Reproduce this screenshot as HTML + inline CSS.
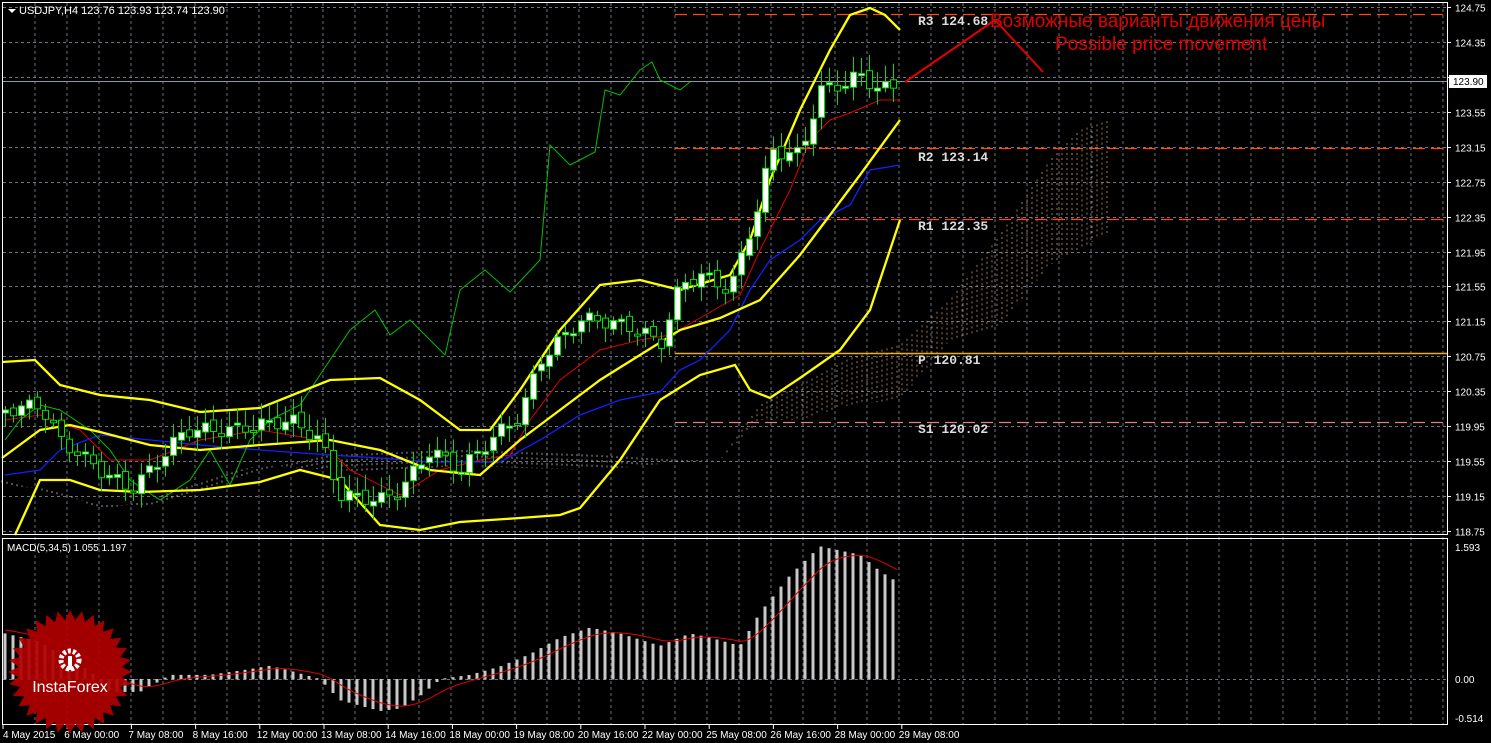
<!DOCTYPE html>
<html><head><meta charset="utf-8"><style>
html,body{margin:0;padding:0;background:#000;width:1491px;height:743px;overflow:hidden}
svg{display:block}
text{font-family:"Liberation Sans","DejaVu Sans",sans-serif}
.m{font-family:"Liberation Mono","DejaVu Sans Mono",monospace;font-weight:bold}
</style></head><body>
<svg id="s" width="1491" height="743" xmlns="http://www.w3.org/2000/svg">
<rect width="1491" height="743" fill="#000"/>
<g id="grid"></g>
<g id="cloud"></g>
<g id="piv"></g>
<g id="lines"></g>
<g id="candles"></g>
<g id="macd"></g>
<rect x="2.5" y="2.5" width="1445" height="532" fill="none" stroke="#fff" stroke-width="1"/>
<rect x="2.5" y="538.5" width="1445" height="186" fill="none" stroke="#fff" stroke-width="1"/>
<polygon points="8,9 16,9 12,13" fill="#fff"/>
<text x="19" y="14" font-size="11" fill="#fff">USDJPY,H4  123.76 123.93 123.74 123.90</text>
<text x="7" y="551" font-size="10" fill="#fff">MACD(5,34,5) 1.055 1.197</text>
<g id="axis" font-size="10" fill="#fff"></g>
<g class="m" font-size="13" fill="#ddd">
<text class="m" x="918" y="25">R3 124.68</text>
<text class="m" x="918" y="161">R2 123.14</text>
<text class="m" x="918" y="230">R1 122.35</text>
<text class="m" x="918" y="364">P  120.81</text>
<text class="m" x="918" y="433">S1 120.02</text>
</g>
<text x="990" y="27" font-size="19" fill="#e00000">Возможные варианты движения цены</text>
<text x="1055" y="50" font-size="19" fill="#e00000">Possible price movement</text>
<polyline points="905,82 995,20 1043,72" fill="none" stroke="#e00000" stroke-width="2"/>
<g id="logo"></g>
</svg>
<script>
(function(){
var NS='http://www.w3.org/2000/svg';
function el(p,t,a){var e=document.createElementNS(NS,t);for(var k in a)e.setAttribute(k,a[k]);document.getElementById(p).appendChild(e);return e;}
function py(p){return 7+(124.75-p)/0.4*34.93;}
for(var x=35;x<1447;x+=32)el('grid','line',{x1:x,y1:3,x2:x,y2:724,stroke:'#6b7480','stroke-dasharray':'3,3'});
var labs=['124.75','124.35','123.95','123.55','123.15','122.75','122.35','121.95','121.55','121.15','120.75','120.35','119.95','119.55','119.15','118.75'];
labs.forEach(function(l){var y=Math.round(py(+l))+0.5;el('grid','line',{x1:3,y1:y,x2:1447,y2:y,stroke:'#6b7480','stroke-dasharray':'3,3'});
 el('grid','line',{x1:1447,y1:y,x2:1451,y2:y,stroke:'#fff'});
 if(l!='123.95'){var t=el('axis','text',{x:1455,y:y+4});t.textContent=l;}});
el('grid','line',{x1:3,y1:679.5,x2:1447,y2:679.5,stroke:'#6b7480','stroke-dasharray':'3,3'});
[['1.593',551],['0.00',683],['-0.514',722]].forEach(function(a){var t=el('axis','text',{x:1455,y:a[1]});t.textContent=a[0];});
el('lines','line',{x1:3,y1:81.5,x2:1447,y2:81.5,stroke:'#8a9aa8'});
el('axis','rect',{x:1449,y:75,width:38,height:13,fill:'#fff'});
var tt=el('axis','text',{x:1453,y:85,fill:'#000'});tt.textContent='123.90';
var dl=['4 May 2015','6 May 00:00','7 May 08:00','8 May 16:00','12 May 00:00','13 May 08:00','14 May 16:00','18 May 00:00','19 May 08:00','20 May 16:00','22 May 00:00','25 May 08:00','26 May 16:00','28 May 00:00','29 May 08:00'];
dl.forEach(function(d,i){var x=3+i*64.2;el('axis','line',{x1:x,y1:725,x2:x,y2:729,stroke:'#fff'});var t=el('axis','text',{x:x+(i?-3:0),y:738});t.textContent=d;});
function hl(y,c,x1,dash,w){el('piv','line',{x1:x1,y1:y,x2:1447,y2:y,stroke:c,'stroke-dasharray':dash||'',"stroke-width":w||1});}
hl(14.5,'#ff4a14',675,'12,6',1.3);hl(148.5,'#ff4a14',675,'12,6',1.3);hl(219.5,'#ff4a14',675,'12,6',1.3);
hl(353.5,'#f0b000',675,'',1.5);hl(422.5,'#e08080',675,'12,6',1.3);
function interp(pts,x){for(var i=0;i<pts.length-1;i++){if(x>=pts[i][0]&&x<=pts[i+1][0]){var f=(x-pts[i][0])/(pts[i+1][0]-pts[i][0]);return pts[i][1]+f*(pts[i+1][1]-pts[i][1]);}}return pts[x<pts[0][0]?0:pts.length-1][1];}
function pl(pts,c,w){el('lines','polyline',{points:pts.map(function(p){return p.join(',')}).join(' '),fill:'none',stroke:c,'stroke-width':w});}
var ca=[[0,480],[60,495],[100,505],[150,505],[200,490],[260,470],[330,455],[400,452],[460,450],[520,452],[600,455],[680,460],[720,460],[760,405],[800,385],[850,358],[900,345],[950,300],[1000,235],[1050,160],[1080,130],[1110,120]];
var cb=[[0,485],[60,490],[100,510],[150,500],[200,480],[260,465],[330,470],[400,472],[460,465],[520,468],[600,470],[680,462],[720,460],[760,420],[800,420],[850,405],[900,400],[950,340],[1000,325],[1050,265],[1110,232]];
for(var x=2;x<=1108;x+=5){var a=interp(ca,x),b=interp(cb,x);el('cloud','line',{x1:x,y1:a,x2:x,y2:b,stroke:x>700?'#e0a878':'#ddd','stroke-dasharray':'2,3','stroke-width':1,opacity:0.7});}
var up=[[2,362],[35,360],[60,385],[100,395],[150,400],[200,412],[260,408],[330,380],[380,378],[420,400],[460,430],[490,430],[520,390],[560,330],[600,285],[640,280],[680,290],[730,275],[750,240],[770,180],[800,110],[830,50],[850,15],[870,8],[885,15],[900,30]];
var mid=[[2,458],[40,430],[70,425],[100,432],[150,445],[200,450],[260,445],[330,440],[380,450],[430,470],[480,475],[520,440],[560,410],[600,380],[640,355],[680,330],[720,318],[760,300],[800,255],[830,215],[860,175],[900,120]];
var lo=[[15,535],[40,480],[70,480],[100,490],[140,492],[200,490],[260,482],[300,470],[340,480],[380,525],[420,530],[460,522],[520,518],[560,515],[580,508],[620,460],[660,400],[700,375],[735,365],[750,390],[770,398],[800,378],[840,350],[870,310],[900,220]];
var gr=[[5,440],[20,420],[40,405],[60,410],[90,430],[110,450],[130,480],[160,500],[190,480],[210,450],[230,485],[250,440],[270,420],[300,405],[320,375],[350,330],[375,310],[390,335],[410,320],[445,355],[460,290],[485,270],[510,292],[540,260],[550,145],[570,165],[595,152],[605,90],[620,95],[640,70],[652,62],[660,80],[680,90],[690,82]];
var cl=[[5,410],[40,405],[60,440],[100,470],[130,490],[150,470],[185,430],[230,430],[290,420],[320,440],[340,495],[380,500],[400,490],[430,450],[460,470],[490,440],[520,415],[540,360],[580,320],[600,320],[640,330],[660,345],[680,285],[700,275],[730,290],[760,200],[770,150],[800,155],[820,90],[840,85],[860,75],[880,90],[900,85]];
var red=[[5,420],[40,415],[80,430],[110,460],[150,460],[200,440],[260,430],[320,440],[350,470],[400,495],[440,470],[480,460],[510,455],[530,420],[560,380],[600,350],[640,340],[670,335],[700,318],[740,295],[760,250],[790,190],[810,140],[830,120],[850,113],[880,100],[900,100]];
var blu=[[5,475],[40,470],[60,450],[100,435],[150,440],[200,445],[260,450],[330,455],[380,458],[430,462],[500,462],[540,440],[580,415],[620,400],[660,392],[680,370],[700,360],[730,330],[750,290],[770,260],[800,240],[820,220],[850,205],[870,170],[900,165]];
pl(red,'#e00000',1);pl(blu,'#1020ff',1.3);pl(gr,'#00c000',1);
pl(up,'#ffff00',2.3);pl(mid,'#ffff00',2.3);pl(lo,'#ffff00',2.3);
var prev=interp(cl,5);
for(var i=0;i<112;i++){var x=5+i*8;var c=interp(cl,x)+Math.sin(i*1.7)*7;var o=prev+Math.cos(i*2.3)*3;prev=c;
 var ctop=Math.min(o,c),cbot=Math.max(o,c);if(cbot-ctop<2)cbot=ctop+2;
 var hi=ctop-4-Math.abs(Math.sin(i*3.1))*12,lw=cbot+4+Math.abs(Math.cos(i*1.3))*10;
 el('candles','line',{x1:x+0.5,y1:hi,x2:x+0.5,y2:lw,stroke:'#00e000'});
 el('candles','rect',{x:x-2.5,y:ctop,width:6,height:cbot-ctop,fill:c<o?'#fff':'#000',stroke:'#00e000'});}
var mv=[[5,0.55],[40,0.45],[60,0.3],[90,0.1],[110,-0.15],[140,-0.15],[170,0.05],[210,0.05],[250,0.12],[270,0.16],[290,0.1],[320,0.0],[340,-0.25],[380,-0.38],[400,-0.35],[420,-0.2],[440,0],[470,0.05],[500,0.15],[530,0.3],[560,0.5],[590,0.62],[620,0.55],[660,0.4],[690,0.55],[710,0.5],[740,0.4],[760,0.8],[790,1.25],[820,1.6],[840,1.55],[860,1.5],[880,1.3],[900,1.15]];
function my(v){return 679-v*82.9;}
for(var i=0;i<112;i++){var x=5+i*8,v=interp(mv,x);var y=my(v);el('macd','rect',{x:x-1.5,y:Math.min(y,679),width:3,height:Math.abs(y-679)+0.5,fill:'#c8c8c8'});}
var sg=[];var s=0.6;for(var x=5;x<=900;x+=4){s=s+(interp(mv,x)-s)*0.15;sg.push([x,my(s).toFixed(1)]);}
el('macd','polyline',{points:sg.map(function(p){return p.join(',')}).join(' '),fill:'none',stroke:'#e00000','stroke-width':1});
var pts=[],cx=70,cy=672;for(var k=0;k<64;k++){var r=k%2?52:62,a=k*Math.PI/32;pts.push((cx+r*Math.cos(a)).toFixed(1)+','+(cy+r*Math.sin(a)).toFixed(1));}
el('logo','polygon',{points:pts.join(' '),fill:'#b00000',opacity:0.92});
el('logo','circle',{cx:70,cy:660,r:9,fill:'none',stroke:'#fff','stroke-width':5,'stroke-dasharray':'3,2'});
el('logo','rect',{x:68,y:656,width:4,height:14,fill:'#fff'});
var lt=el('logo','text',{x:70,y:692,'font-size':16,fill:'#fff','text-anchor':'middle'});lt.textContent='InstaForex';
})();
</script>
</body></html>
